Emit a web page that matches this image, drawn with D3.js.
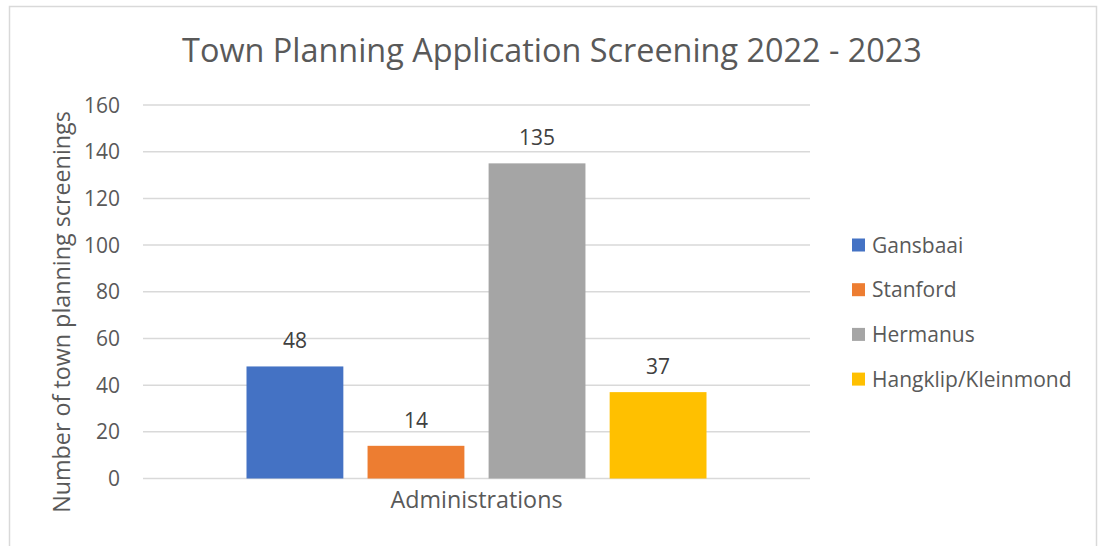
<!DOCTYPE html>
<html>
<head>
<meta charset="utf-8">
<script src="https://cdn.jsdelivr.net/npm/d3@7"></script>
<style>
  html, body { margin: 0; padding: 0; background: #fff; }
  svg { display: block; }
  text { font-family: "Open Sans", "Noto Sans", sans-serif; fill: #595959; }
</style>
</head>
<body>
<svg id="chart" width="1098" height="546"></svg>
<script>
const title = "Town Planning Application Screening 2022 - 2023";
const categories = ["Administrations"];
const seriesNames = ["Gansbaai", "Stanford", "Hermanus", "Hangklip/Kleinmond"];
const seriesValues = [48, 14, 135, 37];
const seriesColors = ["#4472C4", "#ED7D31", "#A5A5A5", "#FFC000"];
const yTicks = [0, 20, 40, 60, 80, 100, 120, 140, 160];
const yTitle = "Number of town planning screenings";

const svg = d3.select("#chart");

// outer chart border
svg.append("rect")
  .attr("x", 9.5).attr("y", 6.5)
  .attr("width", 1087).attr("height", 570)
  .attr("fill", "#fff")
  .attr("stroke", "#D9D9D9").attr("stroke-width", 1.5);

const plot = { left: 143, right: 810, top: 105, bottom: 478.5 };

const y = d3.scaleLinear().domain([0, 160]).range([plot.bottom, plot.top]);
const x0 = d3.scaleBand().domain(categories).range([plot.left, plot.right])
  .paddingInner(0).paddingOuter(0.225);
const x1 = d3.scaleBand().domain(seriesNames).range([0, x0.bandwidth()])
  .paddingInner(0.2).paddingOuter(0);

// gridlines
svg.append("g").selectAll("line").data(yTicks).join("line")
  .attr("x1", plot.left).attr("x2", plot.right)
  .attr("y1", d => y(d)).attr("y2", d => y(d))
  .attr("stroke", "#D9D9D9").attr("stroke-width", 1.5);

// y tick labels
svg.append("g").selectAll("text").data(yTicks).join("text")
  .attr("x", 120).attr("y", d => y(d))
  .attr("dy", "0.36em")
  .attr("text-anchor", "end")
  .attr("font-size", 21)
  .text(d => d);

// bars
const data = seriesNames.map((s, i) => ({ cat: categories[0], name: s, value: seriesValues[i], color: seriesColors[i] }));
const g = svg.append("g");
g.selectAll("rect").data(data).join("rect")
  .attr("x", d => x0(d.cat) + x1(d.name))
  .attr("width", x1.bandwidth())
  .attr("y", d => y(d.value))
  .attr("height", d => y(0) - y(d.value))
  .attr("fill", d => d.color);

// data labels
g.selectAll("text").data(data).join("text")
  .attr("x", d => x0(d.cat) + x1(d.name) + x1.bandwidth() / 2)
  .attr("y", d => y(d.value) - 18)
  .attr("text-anchor", "middle")
  .attr("font-size", 21)
  .style("fill", "#404040")
  .text(d => d.value);

// x category label
svg.append("g").selectAll("text").data(categories).join("text")
  .attr("x", d => x0(d) + x0.bandwidth() / 2)
  .attr("y", 508)
  .attr("text-anchor", "middle")
  .attr("font-size", 23.3)
  .text(d => d);

// y axis title
svg.append("text")
  .attr("transform", "translate(70,312) rotate(-90)")
  .attr("text-anchor", "middle")
  .attr("font-size", 23.3)
  .text(yTitle);

// title
svg.append("text")
  .attr("x", 552).attr("y", 62)
  .attr("text-anchor", "middle")
  .attr("font-size", 32.4)
  .text(title);

// legend
const leg = svg.append("g").selectAll("g").data(data).join("g")
  .attr("transform", (d, i) => `translate(852, ${245 + i * 44.7})`);
leg.append("rect")
  .attr("x", 0).attr("y", -6.5).attr("width", 13).attr("height", 13)
  .attr("fill", d => d.color);
leg.append("text")
  .attr("x", 20).attr("y", 0).attr("dy", "0.36em")
  .attr("font-size", 21)
  .text(d => d.name);
</script>
</body>
</html>
